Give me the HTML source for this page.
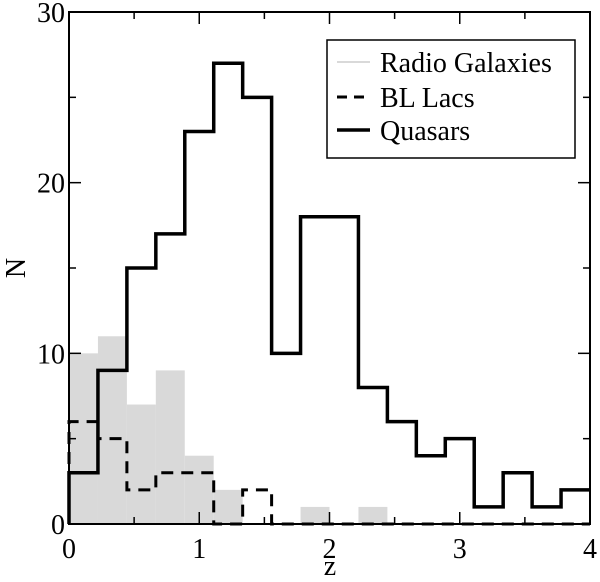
<!DOCTYPE html>
<html><head><meta charset="utf-8"><style>
body{margin:0;background:#fff}
svg text{font-family:"Liberation Serif",serif;fill:#000}
</style></head><body>
<svg id="chart" width="600" height="577" xmlns="http://www.w3.org/2000/svg">
<g id="marks"></g>
<g id="axes"></g>
</svg>
<script>
const binEdgesStart = 0;
const binWidth = 4/18;
const radioGalaxies = [10,11,7,9,4,2,0,0,1,0,1,0,0,0,0,0,0,0];
const blLacs = [6,5,2,3,3,0,2,0,0,0,0,0,0,0,0,0,0,0];
const quasars = [3,9,15,17,23,27,25,10,18,18,8,6,4,5,1,3,1,2];
const xTicks = [0,1,2,3,4];
const yTicks = [0,10,20,30];

const X0=69,X1=590,Y0=524,Y1=12;
const xs=z=>X0+(z-0)/4*(X1-X0);
const ys=v=>Y0-v/30*(Y0-Y1);
const NS="http://www.w3.org/2000/svg";
const marks=document.getElementById('marks'), axes=document.getElementById('axes');
function mk(tag,attrs,parent){const e=document.createElementNS(NS,tag);for(const k in attrs)e.setAttribute(k,attrs[k]);parent.appendChild(e);return e;}

radioGalaxies.forEach((v,i)=>{
  if(v<=0)return;
  const a=binEdgesStart+i*binWidth;
  const r=mk('rect',{x:xs(a),y:ys(v),width:xs(a+binWidth)-xs(a),height:ys(0)-ys(v),fill:'#d9d9d9'},marks);
  
  
});
function stepPath(vals){
  let d='M'+xs(binEdgesStart)+','+ys(0);
  vals.forEach((v,i)=>{const a=binEdgesStart+i*binWidth;d+=' L'+xs(a)+','+ys(v)+' L'+xs(a+binWidth)+','+ys(v);});
  return d;
}
const bl=mk('path',{d:stepPath(blLacs),fill:'none',stroke:'#000','stroke-width':3,'stroke-dasharray':'12,8'},marks);


const q=mk('path',{d:stepPath(quasars),fill:'none',stroke:'#000','stroke-width':3.5},marks);



const frame=mk('rect',{x:X0,y:Y1,width:X1-X0,height:Y0-Y1,fill:'none',stroke:'#000','stroke-width':2},axes);


for(let z=0;z<=4;z+=0.5){
  const L=(z%1===0)?12:7;
  mk('line',{x1:xs(z),x2:xs(z),y1:Y0,y2:Y0-L,stroke:'#000','stroke-width':1.5},axes);
  mk('line',{x1:xs(z),x2:xs(z),y1:Y1,y2:Y1+L,stroke:'#000','stroke-width':1.5},axes);
}
for(let v=0;v<=30;v+=5){
  const L=(v%10===0)?12:7;
  mk('line',{x1:X0,x2:X0+L,y1:ys(v),y2:ys(v),stroke:'#000','stroke-width':1.5},axes);
  mk('line',{x1:X1,x2:X1-L,y1:ys(v),y2:ys(v),stroke:'#000','stroke-width':1.5},axes);
}
xTicks.forEach(t=>{
  const e=mk('text',{x:xs(t),y:558,'font-size':28,'text-anchor':'middle'},axes);e.textContent=t;
  
  
});
yTicks.forEach(t=>{
  const e=mk('text',{x:X0-4,y:ys(t)+10,'font-size':28,'text-anchor':'end'},axes);e.textContent=t;
  
  
});
</script>
<svg style="position:absolute;left:0;top:0" width="600" height="577">
<text x="330" y="575" font-size="28" text-anchor="middle" style="font-family:'Liberation Serif',serif">z</text>
<text transform="translate(25,268) rotate(-90)" font-size="28" text-anchor="middle" style="font-family:'Liberation Serif',serif">N</text>
<g>
<rect x="327" y="40" width="248" height="118" fill="#fff" stroke="#000" stroke-width="1.5"/>
<line x1="337" y1="62" x2="370" y2="62" stroke="#d9d9d9" stroke-width="2"/>
<text x="380" y="72" font-size="28" style="font-family:'Liberation Serif',serif">Radio Galaxies</text>
<line x1="337" y1="97" x2="370" y2="97" stroke="#000" stroke-width="3" stroke-dasharray="10,7"/>
<text x="380" y="107" font-size="28" style="font-family:'Liberation Serif',serif">BL Lacs</text>
<line x1="337" y1="130" x2="370" y2="130" stroke="#000" stroke-width="3.5"/>
<text x="380" y="140" font-size="28" style="font-family:'Liberation Serif',serif">Quasars</text>
</g>
</svg>
</body></html>
